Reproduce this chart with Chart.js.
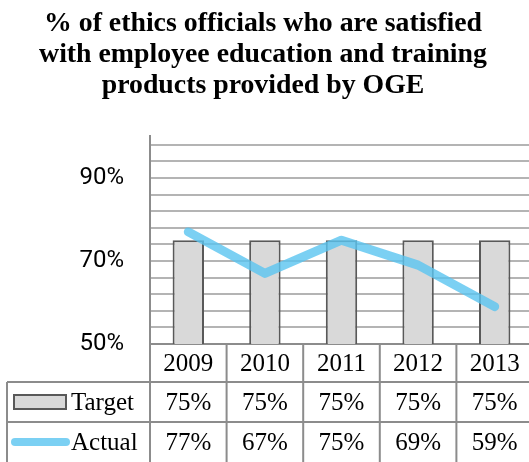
<!DOCTYPE html>
<html>
<head>
<meta charset="utf-8">
<script src="https://cdn.jsdelivr.net/npm/chart.js@4"></script>
<style>
  html, body { margin: 0; padding: 0; background: #fff; overflow: hidden; }
  #wrap { width: 529px; height: 462px; overflow: hidden; }
</style>
</head>
<body>
<div id="wrap"><canvas id="oge" width="536" height="462"></canvas></div>
<script>
const years = ['2009', '2010', '2011', '2012', '2013'];
const target = [75, 75, 75, 75, 75];
const actual = [77, 67, 75, 69, 59];
const seriesNames = ['Target', 'Actual'];
const titleLines = [
  '% of ethics officials who are satisfied',
  'with employee education and training',
  'products provided by OGE'
];
const yMin = 50, yMax = 100, yStep = 4, yLabelStep = 20;

const GRID = '#b4b4b4';
const RULE = '#8c8c8c';
const BAR_FILL = '#d9d9d9';
const BAR_EDGE = '#595959';
const LINE = 'rgba(90, 196, 240, 0.8)';
const SERIF = "'Liberation Serif', 'Times New Roman', serif";

// data table under the plot, columns follow the x scale
const dataTable = {
  id: 'dataTable',
  afterDraw(chart) {
    const { ctx, chartArea, scales } = chart;
    const x = scales.x;
    const top = chartArea.bottom;
    const rowH = [38, 40, 40];
    const r1 = top + rowH[0], r2 = r1 + rowH[1], r3 = r2 + rowH[2];
    const left = 7;
    const half = (x.getPixelForValue(1) - x.getPixelForValue(0)) / 2;

    ctx.save();
    ctx.strokeStyle = RULE;
    ctx.lineWidth = 2;
    ctx.beginPath();
    ctx.moveTo(left, r1); ctx.lineTo(chart.width, r1);
    ctx.moveTo(left, r2); ctx.lineTo(chart.width, r2);
    ctx.moveTo(left, r1); ctx.lineTo(left, r3);
    ctx.moveTo(chartArea.left, top); ctx.lineTo(chartArea.left, r3);
    years.forEach((_, i) => {
      const bx = x.getPixelForValue(i) + half;
      ctx.moveTo(bx, top); ctx.lineTo(bx, r3);
    });
    ctx.stroke();

    ctx.fillStyle = '#000';
    ctx.font = '25px ' + SERIF;
    ctx.textAlign = 'center';
    ctx.textBaseline = 'middle';
    years.forEach((y, i) => {
      const cx = x.getPixelForValue(i);
      ctx.fillText(y, cx, top + rowH[0] / 2 + 1);
      ctx.fillText(target[i] + '%', cx, r1 + rowH[1] / 2 + 1);
      ctx.fillText(actual[i] + '%', cx, r2 + rowH[2] / 2 + 1);
    });

    // legend keys
    ctx.fillStyle = BAR_FILL;
    ctx.strokeStyle = BAR_EDGE;
    ctx.lineWidth = 2;
    ctx.fillRect(14, r1 + 13, 52, 14);
    ctx.strokeRect(14, r1 + 13, 52, 14);
    ctx.strokeStyle = LINE;
    ctx.lineWidth = 8;
    ctx.lineCap = 'round';
    ctx.beginPath();
    ctx.moveTo(15, r2 + 20); ctx.lineTo(66, r2 + 20);
    ctx.stroke();

    ctx.fillStyle = '#000';
    ctx.textAlign = 'left';
    ctx.fillText(seriesNames[0], 71, r1 + rowH[1] / 2 + 1);
    ctx.fillText(seriesNames[1], 71, r2 + rowH[2] / 2 + 1);
    ctx.restore();
  }
};

new Chart(document.getElementById('oge'), {
  data: {
    labels: years,
    datasets: [
      {
        type: 'line', label: seriesNames[1], data: actual, order: 1,
        borderColor: LINE, borderWidth: 9, borderCapStyle: 'round',
        borderJoinStyle: 'round', pointRadius: 0, tension: 0, fill: false
      },
      {
        type: 'bar', label: seriesNames[0], data: target, order: 2,
        backgroundColor: BAR_FILL, borderColor: BAR_EDGE, borderWidth: 2,
        categoryPercentage: 1, barPercentage: 0.41
      }
    ]
  },
  options: {
    responsive: false,
    animation: false,
    layout: { padding: { top: 0, left: -7, right: 3, bottom: 118 } },
    plugins: {
      legend: { display: false },
      tooltip: { enabled: false },
      title: {
        display: true,
        text: titleLines,
        color: '#000',
        font: { family: SERIF, size: 27.8, weight: 'bold', lineHeight: 1.12 },
        padding: { top: 8, bottom: 35 }
      }
    },
    scales: {
      x: { display: false, offset: true },
      y: {
        min: yMin, max: yMax,
        afterFit(s) { s.width = 157; },
        // minor lines every 4 points starting at the axis minimum
        afterBuildTicks(s) {
          const ticks = [];
          for (let v = yMin; v < yMax; v += yStep) ticks.push({ value: v });
          ticks.push({ value: yMax });
          s.ticks = ticks;
        },
        border: { display: true, color: RULE, width: 2 },
        grid: {
          drawTicks: false,
          lineWidth: 2,
          color: c => {
            const v = Math.round(c.tick.value);
            return v === yMax ? 'rgba(0,0,0,0)' : (v === yMin ? RULE : GRID);
          }
        },
        ticks: {
          autoSkip: false,
          padding: 26,
          color: '#000',
          font: { family: 'Roboto, sans-serif', size: 24 },
          callback: v => {
            const r = Math.round(v);
            return ((r - yMin) % yLabelStep === 0 && r < yMax) ? r + '%' : '';
          }
        }
      }
    }
  },
  plugins: [dataTable]
});
</script>
</body>
</html>
